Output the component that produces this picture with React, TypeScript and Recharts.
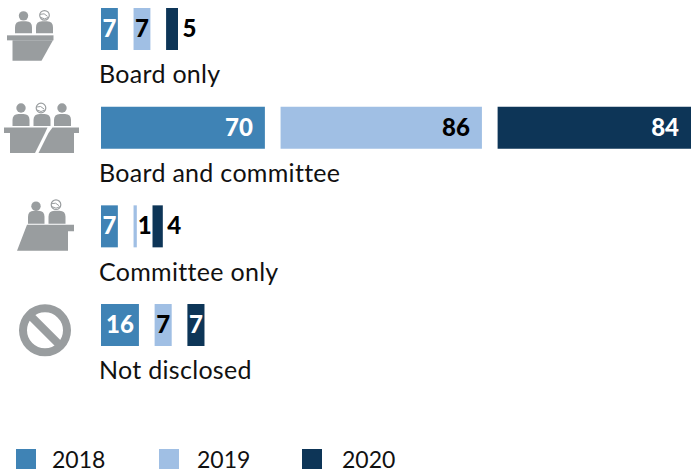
import React from "react";
import { BarChart, Bar, XAxis, YAxis, LabelList, Legend } from "recharts";

const categories = ["Board only", "Board and committee", "Committee only", "Not disclosed"];
// bar lengths; the printed labels are these rounded
const values2018 = [7.2, 70, 7.2, 16.2];
const values2019 = [7.2, 86, 1.4, 7.3];
const values2020 = [5.1, 84, 4.4, 7.3];
const years = ["2018", "2019", "2020"];
const colors = ["#3f83b5", "#a0bfe4", "#0d3557"];

const GAP = 6.7; // empty stretch between bars, in value units
const GREY = "#999d9f";
const FONT = "Lato, sans-serif";

const data = categories.map((name, i) => ({
  name,
  v2018: values2018[i],
  gap1: GAP,
  v2019: values2019[i],
  gap2: GAP,
  v2020: values2020[i],
}));

const Head = ({ x, y, hair }: any) =>
  hair ? (
    <g>
      <circle cx={x} cy={y} r={4.8} fill="#fff" stroke={GREY} strokeWidth={1.2} />
      <path d={`M${x - 4.5} ${y - 1} Q${x} ${y - 3} ${x + 3} ${y + 1} M${x - 4} ${y + 2} Q${x} ${y + 5} ${x + 4} ${y + 2}`} fill="none" stroke={GREY} strokeWidth={1} />
    </g>
  ) : (
    <circle cx={x} cy={y} r={4.7} fill={GREY} />
  );

const Body = ({ x, y, w, h }: any) => (
  <path
    d={`M${x} ${y + h} V${y + 6} Q${x} ${y} ${x + 6} ${y} H${x + w - 6} Q${x + w} ${y} ${x + w} ${y + 6} V${y + h} Z`}
    fill={GREY}
  />
);

// icons are drawn relative to the middle of their row
const icons: any = {
  "Board only": (
    <g>
      <Head x={23.5} y={-13.5} />
      <Head x={44.5} y={-14} hair />
      <Body x={15} y={-8} w={17} h={12} />
      <Body x={36} y={-8} w={17} h={12} />
      <rect x={7} y={6} width={46.5} height={5} fill={GREY} />
      <polygon points="12.5,11 53,11 41.5,31.5 12.5,31.5" fill={GREY} />
    </g>
  ),
  "Board and committee": (
    <g>
      <Head x={21} y={-20} />
      <Head x={41} y={-20} hair />
      <Head x={62} y={-20} />
      <Body x={12.5} y={-14} w={17} h={12} />
      <Body x={33.5} y={-14} w={17} h={12} />
      <Body x={54} y={-14} w={17} h={12} />
      <polygon points="4,-0.5 47.5,-0.5 45,5 35,25 10,25 10,5 4,5" fill={GREY} />
      <polygon points="52.5,-0.5 79,-0.5 79,5 74,5 74,25 38.5,25 48.5,5" fill={GREY} />
    </g>
  ),
  "Committee only": (
    <g>
      <Head x={36} y={-20.5} />
      <Head x={56} y={-22} hair />
      <Body x={28} y={-16} w={16.5} h={13} />
      <Body x={48.5} y={-16} w={17} h={13} />
      <polygon points="27,-2 74,-2 74,4.5 68,4.5 68,24 17,24" fill={GREY} />
    </g>
  ),
  "Not disclosed": (
    <g>
      <circle cx={45} cy={5} r={22} fill="none" stroke={GREY} strokeWidth={8} />
      <line x1={29.5} y1={-10.5} x2={60.5} y2={20.5} stroke={GREY} strokeWidth={8} />
    </g>
  ),
};

const CategoryTick = ({ x, y, payload }: any) => (
  <g>
    <g transform={`translate(0, ${y})`}>{icons[payload.value]}</g>
    <text x={x + 6} y={y + 54} fontFamily={FONT} fontSize={25} letterSpacing={0.3} fill="#111">
      {payload.value}
    </text>
  </g>
);

// big bars: inside the end, middling: centred, small: just outside
// (small 2019 bars have the 2020 bar right after, so the label sits mid-gap)
const makeLabel = (insideColor: string, midGap = false) => (props: any) => {
  const { x, y, width, height, value } = props;
  let tx = x + width / 2;
  let anchor = "middle";
  let fill = insideColor;
  if (value >= 50) {
    tx = x + width - 12;
    anchor = "end";
  } else if (value < 7) {
    tx = midGap ? x + width + 8 : x + width + 4.5;
    anchor = midGap ? "middle" : "start";
    fill = "#000";
  }
  return (
    <text x={tx} y={y + height / 2 + 8} textAnchor={anchor} fontFamily={FONT} fontSize={24} fontWeight={900} fill={fill}>
      {Math.round(value)}
    </text>
  );
};

// zero height so the legend takes no room from the plot
const LegendRow = () => (
  <div style={{ position: "relative", height: 0, fontFamily: FONT, fontSize: 23, color: "#111" }}>
    {years.map((year, i) => (
      <div key={year}>
        <div style={{ position: "absolute", left: 16 + i * 143, top: 0, width: 20, height: 20, background: colors[i] }} />
        <div style={{ position: "absolute", left: 52 + i * 145, top: -5, lineHeight: "30px" }}>{year}</div>
      </div>
    ))}
  </div>
);

export default function App() {
  return (
    <div style={{ position: "absolute", left: 0, top: 0, width: 691, height: 469, overflow: "hidden", background: "#fff" }}>
      <div style={{ position: "absolute", left: 0, top: -20.3 }}>
        <BarChart
          width={691}
          height={510}
          data={data}
          layout="vertical"
          barSize={42}
          margin={{ top: 0, right: 0, bottom: 115.3, left: 0 }}
        >
          <XAxis type="number" domain={[0, 252]} hide allowDataOverflow />
          <YAxis type="category" dataKey="name" width={101} axisLine={false} tickLine={false} tick={<CategoryTick />} interval={0} />
          <Legend
            content={<LegendRow />}
            wrapperStyle={{ position: "absolute", left: 0, top: 469.3, bottom: "auto", width: 691 }}
          />
          <Bar dataKey="v2018" stackId="a" fill={colors[0]} isAnimationActive={false}>
            <LabelList dataKey="v2018" content={makeLabel("#fff")} />
          </Bar>
          <Bar dataKey="gap1" stackId="a" fill="none" legendType="none" isAnimationActive={false} />
          <Bar dataKey="v2019" stackId="a" fill={colors[1]} isAnimationActive={false}>
            <LabelList dataKey="v2019" content={makeLabel("#000", true)} />
          </Bar>
          <Bar dataKey="gap2" stackId="a" fill="none" legendType="none" isAnimationActive={false} />
          <Bar dataKey="v2020" stackId="a" fill={colors[2]} isAnimationActive={false}>
            <LabelList dataKey="v2020" content={makeLabel("#fff")} />
          </Bar>
        </BarChart>
      </div>
    </div>
  );
}
